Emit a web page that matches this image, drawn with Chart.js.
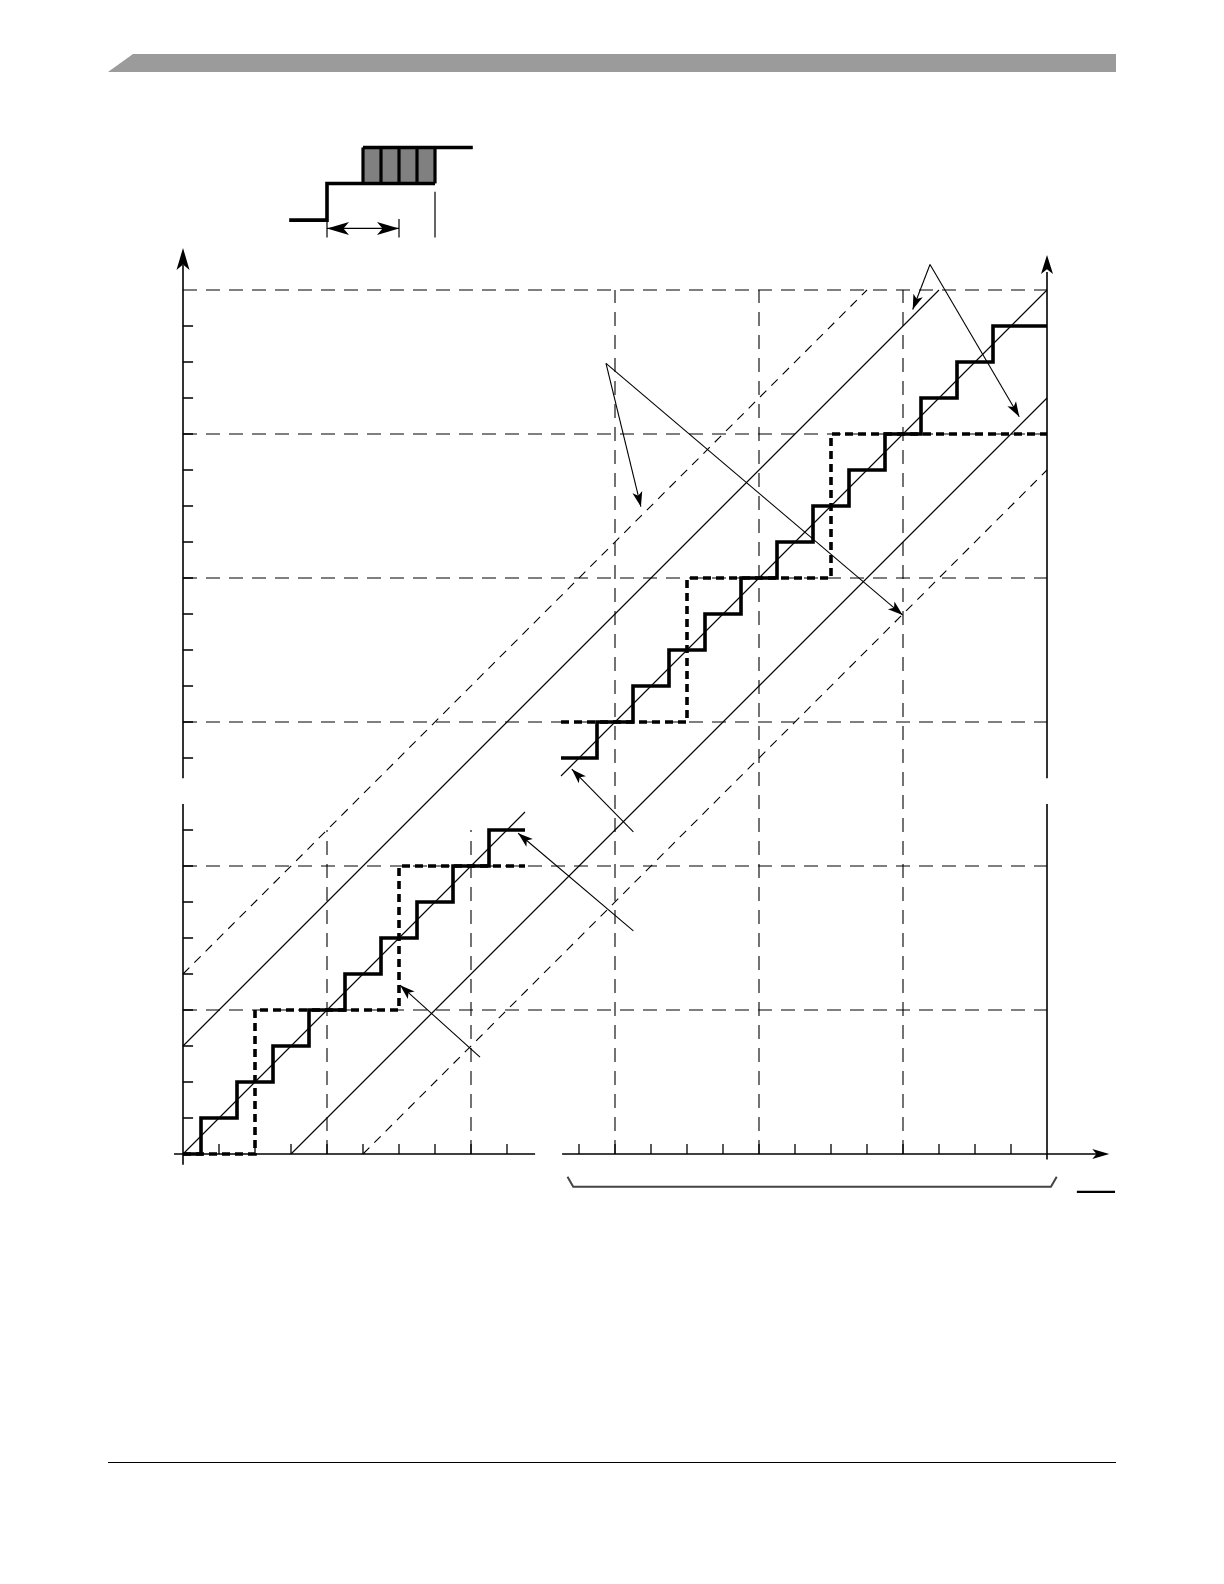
<!DOCTYPE html>
<html>
<head>
<meta charset="utf-8">
<script src="https://cdn.jsdelivr.net/npm/chart.js@4.4.1/dist/chart.umd.min.js"></script>
<style>
html, body { margin: 0; padding: 0; background: #fff; }
#page { position: relative; width: 1224px; height: 1584px; overflow: hidden; background: #fff; }
#header { position: absolute; left: 108px; top: 54px; width: 1008px; height: 18px; background: #9b9b9b;
  clip-path: polygon(25px 0, 100% 0, 100% 100%, 0 100%); }
#footer { position: absolute; left: 108px; top: 1462px; width: 1008px; height: 0; border-top: 1.5px solid #000; }
#adc_chart { position: absolute; left: 0; top: 0; }
</style>
</head>
<body>
<div id="page">
  <div id="header"></div>
  <div id="footer"></div>
  <canvas id="adc_chart" width="1224" height="1584"></canvas>
</div>
<script>
// all values in LSB units (1 grid step = 1 LSB)

// fine staircase (each point = where a new code starts)
var fine_low_x  = [0, 0.5, 1.5, 2.5, 3.5, 4.5, 5.5, 6.5, 7.5, 8.5, 9.5];
var fine_low_y  = [0, 1, 2, 3, 4, 5, 6, 7, 8, 9, 9];
var fine_high_x = [10.5, 11.5, 12.5, 13.5, 14.5, 15.5, 16.5, 17.5, 18.5, 19.5, 20.5, 21.5, 22.5, 24];
var fine_high_y = [11, 12, 13, 14, 15, 16, 17, 18, 19, 20, 21, 22, 23, 23];

// coarse staircase (dashed)
var coarse_low_x  = [0, 2, 6, 9.5];
var coarse_low_y  = [0, 4, 8, 8];
var coarse_high_x = [10.5, 14, 18, 24];
var coarse_high_y = [12, 16, 20, 20];

// ideal line, split by the axis break
var ideal_low_x  = [0, 9.5];
var ideal_low_y  = [0, 9.5];
var ideal_high_x = [10.5, 24];
var ideal_high_y = [10.5, 24];

// limit lines
var inner_upper_x = [0, 21];
var inner_upper_y = [3, 24];
var inner_lower_x = [3, 24];
var inner_lower_y = [0, 21];
var outer_upper_x = [0, 19];
var outer_upper_y = [5, 24];
var outer_lower_x = [5, 24];
var outer_lower_y = [0, 19];

// grid
var grid_h_y = [4, 8, 12, 16, 20, 24];
var grid_v_x = [4, 8, 12, 16, 20];
var grid_v_top = [9, 9, 24, 24, 24];

// ticks
var ticks_low  = [1, 2, 3, 4, 5, 6, 7, 8, 9];
var ticks_high = [11, 12, 13, 14, 15, 16, 17, 18, 19, 20, 21, 22, 23];
var y_break = [9.72, 10.44];
var x_break = [9.78, 10.53];

// callout arrows: [tail x, tail y, tip x, tip y]
var callouts = [
  [20.75, 24.71, 20.27, 23.46],
  [20.75, 24.71, 23.23, 20.48],
  [11.75, 21.96, 12.72, 17.98],
  [11.75, 21.96, 19.99, 14.97],
  [12.51, 8.95, 10.80, 10.69],
  [12.51, 6.20, 9.31, 8.91],
  [8.25, 2.69, 6.03, 4.69]
];

// timing inset
var clk_x = [2.95, 4, 4, 7];
var clk_y = [25.94, 25.94, 26.96, 26.96];
var clk_top_x = [5, 8.05];
var clk_top_y = [27.96, 27.96];
var clk_boxes = [5, 5.5, 6, 6.5, 7];
var clk_dim_y = 25.71;
var clk_dim_x = [4, 6];
var clk_ext_x = [4, 6, 7];
var clk_ext_top = [25.94, 25.97, 26.73];
var clk_ext_bottom = 25.46;

// bracket under the axis
var brace_x = [10.68, 10.84, 24.11, 24.27];
var brace_y = [-0.63, -0.91, -0.91, -0.63];
var bar_x = [24.83, 25.89];
var bar_y = [-1.05, -1.05];

function pts(xa, ya) {
	return xa.map(function(x, i) { return {x: x, y: ya[i]}; });
}

function line_ds(xa, ya, width, dash, stepped, color) {
	return {
		data: pts(xa, ya),
		showLine: true,
		borderColor: color || '#000',
		borderWidth: width,
		borderDash: dash || [],
		stepped: stepped || false,
		pointRadius: 0,
		pointHoverRadius: 0,
		fill: false,
		tension: 0,
		borderCapStyle: 'butt',
		borderJoinStyle: 'miter'
	};
}

var datasets = [];
// staircases on top
datasets.push(line_ds(fine_low_x, fine_low_y, 3.6, null, true));
datasets.push(line_ds(fine_high_x, fine_high_y, 3.6, null, true));
datasets.push(line_ds(coarse_low_x, coarse_low_y, 3.6, [8, 5], true));
datasets.push(line_ds(coarse_high_x, coarse_high_y, 3.6, [8, 5], true));
// inset waveform
datasets.push(line_ds(clk_x, clk_y, 3.6, null, false));
datasets.push(line_ds(clk_top_x, clk_top_y, 3.6, null, false));
datasets.push(line_ds(clk_dim_x, [clk_dim_y, clk_dim_y], 1.2, null, false));
clk_ext_x.forEach(function(x, i) {
	datasets.push(line_ds([x, x], [clk_ext_top[i], clk_ext_bottom], 1.2, null, false));
});
// axes
datasets.push(line_ds([0, 0], [-0.3, y_break[0]], 1.6));
datasets.push(line_ds([0, 0], [y_break[1], 24.7], 1.6));
datasets.push(line_ds([24, 24], [-0.15, y_break[0]], 1.6));
datasets.push(line_ds([24, 24], [y_break[1], 24.5], 1.6));
datasets.push(line_ds([-0.25, x_break[0]], [0, 0], 1.6));
datasets.push(line_ds([x_break[1], 25.4], [0, 0], 1.6));
// ideal and limit lines
datasets.push(line_ds(ideal_low_x, ideal_low_y, 1.1));
datasets.push(line_ds(ideal_high_x, ideal_high_y, 1.1));
datasets.push(line_ds(inner_upper_x, inner_upper_y, 1.1));
datasets.push(line_ds(inner_lower_x, inner_lower_y, 1.1));
datasets.push(line_ds(outer_upper_x, outer_upper_y, 1.1, [9, 7]));
datasets.push(line_ds(outer_lower_x, outer_lower_y, 1.1, [9, 7]));
// dashed grid
grid_h_y.forEach(function(y) {
	datasets.push(line_ds([0, 24], [y, y], 1.1, [14, 9]));
});
grid_v_x.forEach(function(x, i) {
	datasets.push(line_ds([x, x], [0, grid_v_top[i]], 1.1, [14, 9]));
});
// bracket
datasets.push(line_ds(brace_x, brace_y, 2, null, false, '#444'));
datasets.push(line_ds(bar_x, bar_y, 2.2));

function arrow_head(ctx, x0, y0, x1, y1, len, half) {
	var a = Math.atan2(y1 - y0, x1 - x0);
	var c = Math.cos(a), s = Math.sin(a);
	ctx.beginPath();
	ctx.moveTo(x1, y1);
	ctx.lineTo(x1 - len * c - half * s, y1 - len * s + half * c);
	ctx.lineTo(x1 - len * 0.75 * c, y1 - len * 0.75 * s);
	ctx.lineTo(x1 - len * c + half * s, y1 - len * s - half * c);
	ctx.closePath();
	ctx.fill();
}

var decorations = {
	id: 'decorations',
	beforeDatasetsDraw: function(chart) {
		var ctx = chart.ctx, sx = chart.scales.x, sy = chart.scales.y;
		// gray sample boxes of the inset
		ctx.save();
		ctx.fillStyle = '#808080';
		var l = sx.getPixelForValue(clk_boxes[0]), r = sx.getPixelForValue(clk_boxes[clk_boxes.length - 1]);
		var t = sy.getPixelForValue(clk_top_y[0]), b = sy.getPixelForValue(clk_y[2]);
		ctx.fillRect(l, t, r - l, b - t);
		ctx.restore();
	},
	afterDatasetsDraw: function(chart) {
		var ctx = chart.ctx, sx = chart.scales.x, sy = chart.scales.y;
		function px(v) { return sx.getPixelForValue(v); }
		function py(v) { return sy.getPixelForValue(v); }
		ctx.save();
		ctx.strokeStyle = '#000';
		ctx.fillStyle = '#000';

		// box separators
		ctx.lineWidth = 3.2;
		clk_boxes.forEach(function(x) {
			ctx.beginPath();
			ctx.moveTo(px(x), py(clk_top_y[0]));
			ctx.lineTo(px(x), py(clk_y[2]));
			ctx.stroke();
		});

		// ticks, drawn inward
		ctx.lineWidth = 1.3;
		var tl = 0.28;
		ticks_low.concat(ticks_high).forEach(function(v) {
			ctx.beginPath();
			ctx.moveTo(px(0), py(v));
			ctx.lineTo(px(tl), py(v));
			ctx.moveTo(px(v), py(0));
			ctx.lineTo(px(v), py(tl));
			ctx.stroke();
		});

		// axis arrows
		arrow_head(ctx, px(0), py(24), px(0), py(25.17), 22, 6.5);
		arrow_head(ctx, px(24), py(24), px(24), py(24.97), 19, 6);
		arrow_head(ctx, px(24), py(0), px(25.73), py(0), 17, 5);

		// callouts
		ctx.lineWidth = 1.1;
		callouts.forEach(function(c) {
			var x0 = px(c[0]), y0 = py(c[1]), x1 = px(c[2]), y1 = py(c[3]);
			ctx.beginPath();
			ctx.moveTo(x0, y0);
			ctx.lineTo(x1, y1);
			ctx.stroke();
			arrow_head(ctx, x0, y0, x1, y1, 15, 5);
		});

		// inset dimension arrows
		var dy = py(clk_dim_y);
		arrow_head(ctx, px(clk_dim_x[1]), dy, px(clk_dim_x[0]), dy, 22, 6.5);
		arrow_head(ctx, px(clk_dim_x[0]), dy, px(clk_dim_x[1]), dy, 22, 6.5);
		ctx.restore();
	}
};

var adc_ctx = document.getElementById('adc_chart');
var adc_chart = new Chart(adc_ctx, {
	type: 'scatter',
	data: { datasets: datasets },
	options: {
		responsive: false,
		animation: false,
		events: [],
		layout: { padding: 0 },
		plugins: { legend: { display: false }, tooltip: { enabled: false } },
		scales: {
			x: { type: 'linear', display: false, bounds: 'data', min: -183 / 36, max: (1224 - 183) / 36 },
			y: { type: 'linear', display: false, bounds: 'data', min: (1154 - 1584) / 36, max: 1154 / 36 }
		}
	},
	plugins: [decorations]
});
</script>
</body>
</html>
